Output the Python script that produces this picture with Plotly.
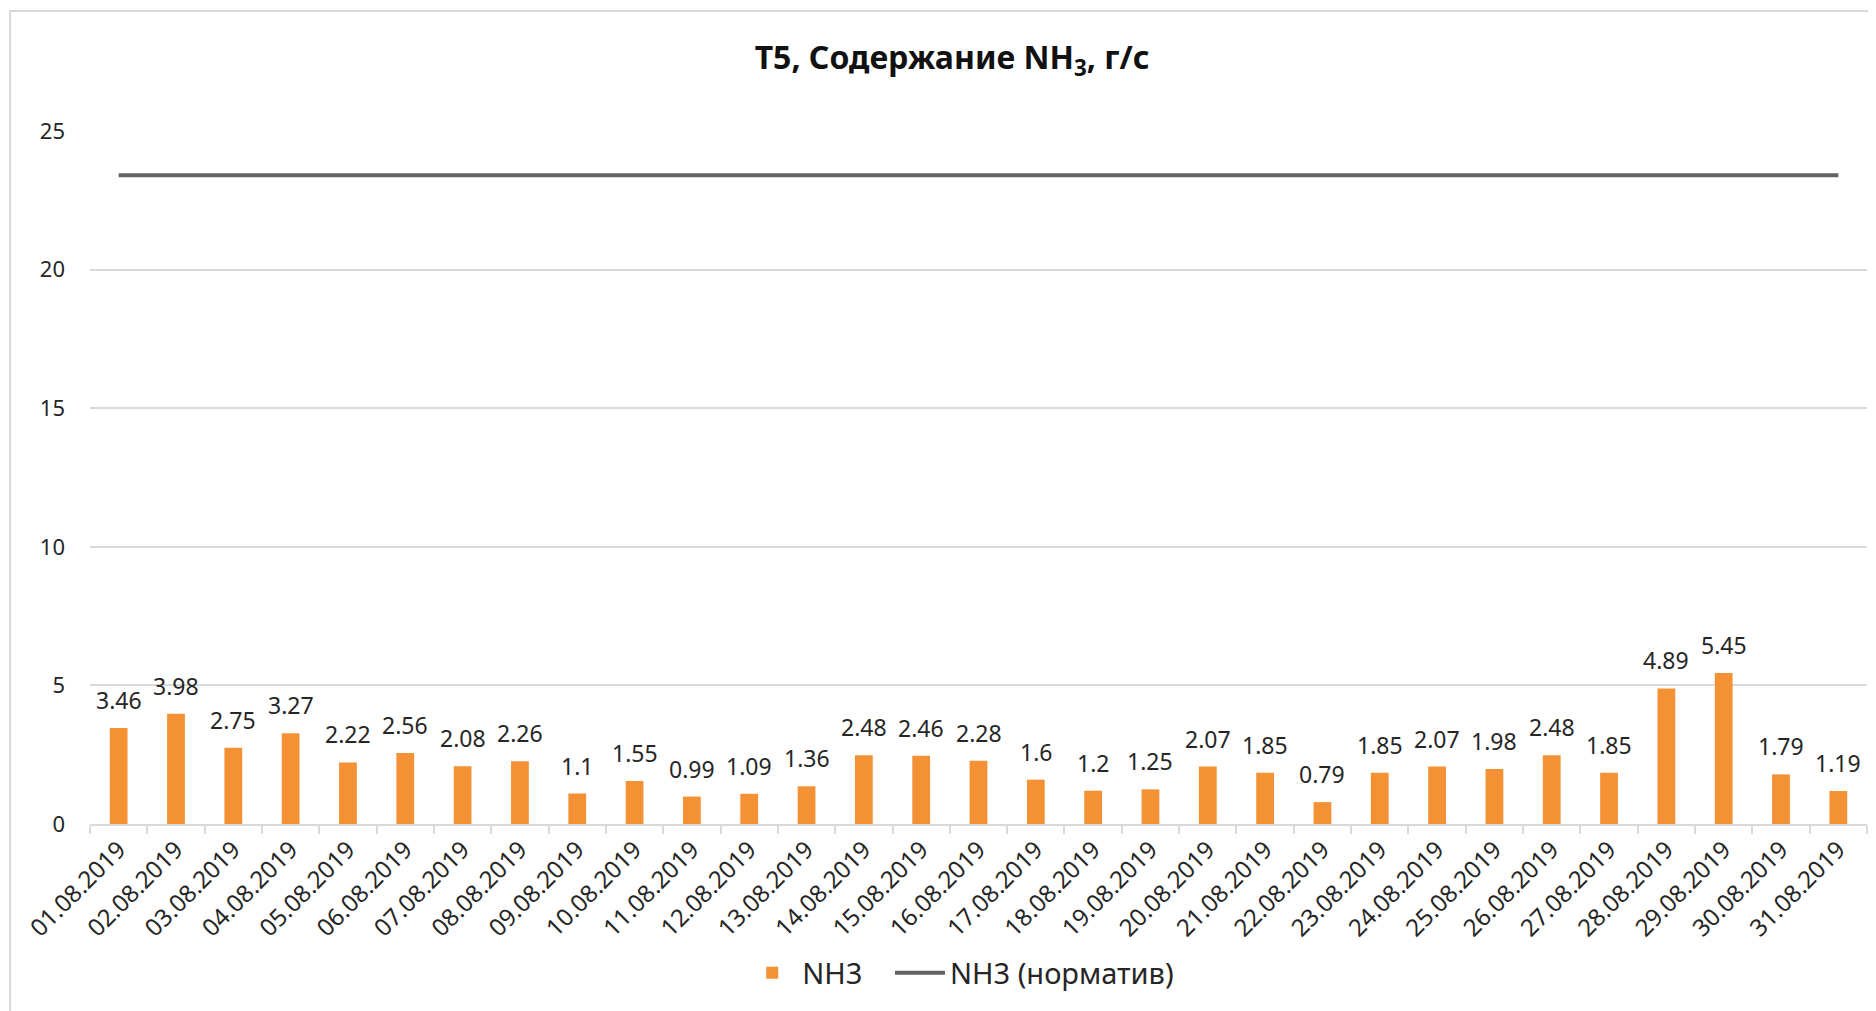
import plotly.graph_objects as go

dates = ["01.08.2019", "02.08.2019", "03.08.2019", "04.08.2019", "05.08.2019", "06.08.2019",
         "07.08.2019", "08.08.2019", "09.08.2019", "10.08.2019", "11.08.2019", "12.08.2019",
         "13.08.2019", "14.08.2019", "15.08.2019", "16.08.2019", "17.08.2019", "18.08.2019",
         "19.08.2019", "20.08.2019", "21.08.2019", "22.08.2019", "23.08.2019", "24.08.2019",
         "25.08.2019", "26.08.2019", "27.08.2019", "28.08.2019", "29.08.2019", "30.08.2019",
         "31.08.2019"]
nh3 = [3.46, 3.98, 2.75, 3.27, 2.22, 2.56, 2.08, 2.26, 1.1, 1.55, 0.99, 1.09, 1.36, 2.48,
       2.46, 2.28, 1.6, 1.2, 1.25, 2.07, 1.85, 0.79, 1.85, 2.07, 1.98, 2.48, 1.85, 4.89,
       5.45, 1.79, 1.19]
norm_value = 23.4
norm = [norm_value] * len(dates)
y_ticks = [0, 5, 10, 15, 20, 25]

FONT = "Noto Sans, PT Sans, sans-serif"
TXT = "#262626"

fig = go.Figure()
fig.add_trace(go.Bar(
    x=dates, y=nh3, name="NH3\u00a0\u00a0\u00a0",
    marker=dict(color="#F39134", line=dict(width=0)),
))
fig.add_trace(go.Scatter(
    x=dates, y=norm, name="NH3 (норматив)", mode="lines",
    line=dict(color="#636363", width=4),
))

for d, v in zip(dates, nh3):
    fig.add_annotation(x=d, y=v, xref="x", yref="y", text=f"{v:g}", showarrow=False,
                       yanchor="bottom", yshift=10,
                       font=dict(family=FONT, size=23, color=TXT))

fig.add_shape(type="rect", xref="paper", yref="paper", x0=-0.045, x1=1.2, y0=-0.6, y1=1.173,
              line=dict(color="#D9D9D9", width=2), fillcolor="rgba(0,0,0,0)", layer="below")

fig.update_layout(
    width=1868, height=1003,
    margin=dict(l=82, r=9, t=123, b=187, autoexpand=False),
    paper_bgcolor="white", plot_bgcolor="white",
    font=dict(family=FONT, size=22, color=TXT),
    title=dict(text="<b>T5, Содержание NH<sub>3</sub>, г/с</b>", x=0.5054, xref="container",
               xanchor="center", y=0.95, yref="container", yanchor="middle",
               font=dict(family=FONT, size=32, color="#111111")),
    bargap=0.69,
    showlegend=True,
    legend=dict(orientation="h", x=0.490, xanchor="center", y=-0.215, yanchor="middle",
                font=dict(family=FONT, size=29, color=TXT), itemwidth=50,
                traceorder="normal"),
    xaxis=dict(type="category", tickangle=-45, showgrid=False, showline=True,
               linecolor="#D9D9D9", linewidth=2, ticks="outside", tickson="boundaries",
               ticklen=8, tickcolor="#D9D9D9", tickwidth=2, automargin=False,
               tickfont=dict(family=FONT, size=24, color=TXT)),
    yaxis=dict(range=[0, 25], tickvals=y_ticks, showgrid=True, gridcolor="#D9D9D9",
               gridwidth=1.5, zeroline=False, showline=False, ticks="", automargin=False,
               ticklabelstandoff=24,
               tickfont=dict(family=FONT, size=22, color=TXT)),
)

fig.write_html("out.html")
